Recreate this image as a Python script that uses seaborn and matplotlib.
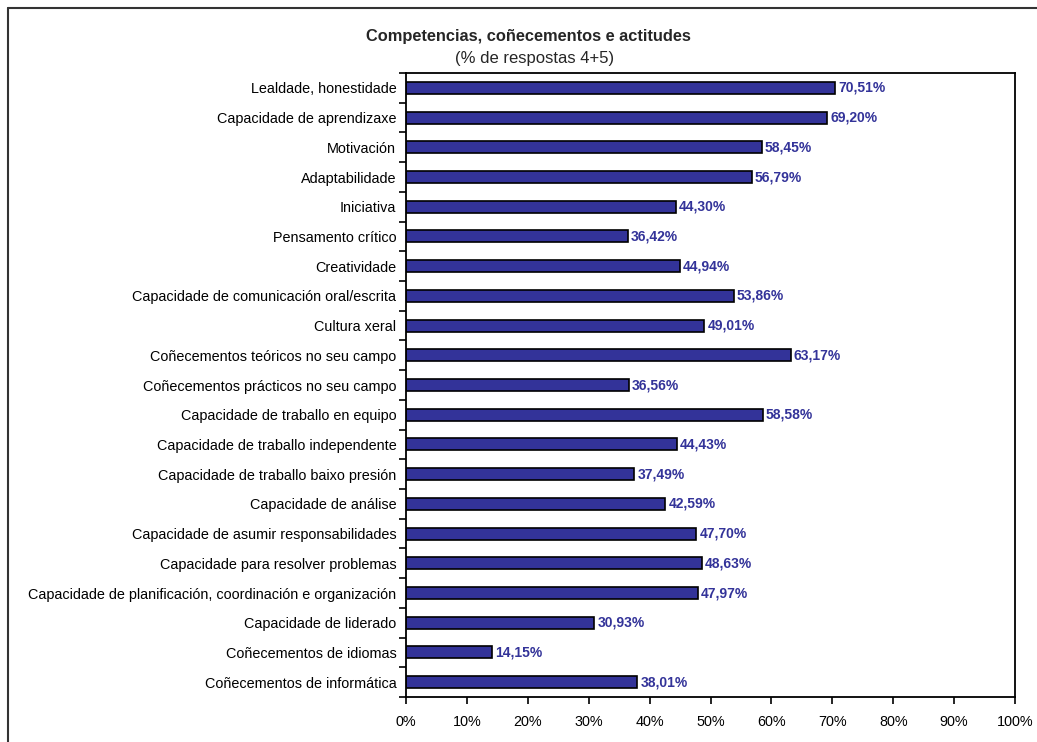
import matplotlib
matplotlib.use("Agg")
import matplotlib.pyplot as plt
import seaborn as sns
import pandas as pd
import numpy as np
from matplotlib.ticker import FixedLocator, PercentFormatter

categories = [
    "Lealdade, honestidade",
    "Capacidade de aprendizaxe",
    "Motivación",
    "Adaptabilidade",
    "Iniciativa",
    "Pensamento crítico",
    "Creatividade",
    "Capacidade de comunicación oral/escrita",
    "Cultura xeral",
    "Coñecementos teóricos no seu campo",
    "Coñecementos prácticos no seu campo",
    "Capacidade de traballo en equipo",
    "Capacidade de traballo independente",
    "Capacidade de traballo baixo presión",
    "Capacidade de análise",
    "Capacidade de asumir responsabilidades",
    "Capacidade para resolver problemas",
    "Capacidade de planificación, coordinación e organización",
    "Capacidade de liderado",
    "Coñecementos de idiomas",
    "Coñecementos de informática",
]
values = [70.51, 69.20, 58.45, 56.79, 44.30, 36.42, 44.94, 53.86, 49.01, 63.17,
          36.56, 58.58, 44.43, 37.49, 42.59, 47.70, 48.63, 47.97, 30.93, 14.15, 38.01]
x_ticks = [0, 10, 20, 30, 40, 50, 60, 70, 80, 90, 100]

title = "Competencias, coñecementos e actitudes"
subtitle = "(% de respostas 4+5)"

sns.set_style("white")
plt.rcParams["font.family"] = ["Liberation Sans", "DejaVu Sans"]

bar_color = "#333399"
df = pd.DataFrame({"cat": categories, "val": values})

fig = plt.figure(figsize=(10.37, 7.42), dpi=100)
ax = fig.add_axes([406 / 1037, 1 - 697 / 742, (1015 - 406) / 1037, (697 - 73) / 742])

sns.barplot(data=df, y="cat", x="val", orient="h", color=bar_color, saturation=1,
            edgecolor="black", linewidth=1.2, width=0.4, ax=ax)

n = len(categories)
ax.set_xlim(0, 100)
ax.set_ylim(n - 0.5, -0.5)
ax.set_xlabel("")
ax.set_ylabel("")
ax.xaxis.set_major_locator(FixedLocator(x_ticks))
ax.xaxis.set_major_formatter(PercentFormatter(decimals=0))

ax.yaxis.set_minor_locator(FixedLocator(np.arange(-0.5, n, 1.0)))
ax.tick_params(axis="y", which="major", length=0, pad=7, labelsize=10.4, colors="black")
ax.tick_params(axis="y", which="minor", length=5, width=1.2, direction="out", left=True, color="black")
ax.tick_params(axis="x", which="major", length=5, width=1.2, direction="out", bottom=True,
               pad=8, labelsize=10.4, colors="black")

for s in ax.spines.values():
    s.set_visible(True)
    s.set_color("black")
    s.set_linewidth(1.3)

for i, v in enumerate(values):
    ax.text(v + 0.5, i, f"{v:.2f}%".replace(".", ","), va="center", ha="left",
            color=bar_color, fontsize=10, fontweight="bold")

fig.text(528 / 1037, 1 - 37 / 742, title, ha="center", va="center",
         fontsize=11.8, fontweight="bold")
fig.text(535 / 1037, 1 - 58 / 742, subtitle, ha="center", va="center", fontsize=12)

# outer chart-area border (left and top edges visible)
fig.add_artist(plt.Line2D([8 / 1037, 8 / 1037], [0, 1 - 8 / 742], transform=fig.transFigure,
                          color="#333333", linewidth=1.5))
fig.add_artist(plt.Line2D([8 / 1037, 1], [1 - 8 / 742, 1 - 8 / 742], transform=fig.transFigure,
                          color="#333333", linewidth=1.5))

fig.savefig("out.png", dpi=100)
